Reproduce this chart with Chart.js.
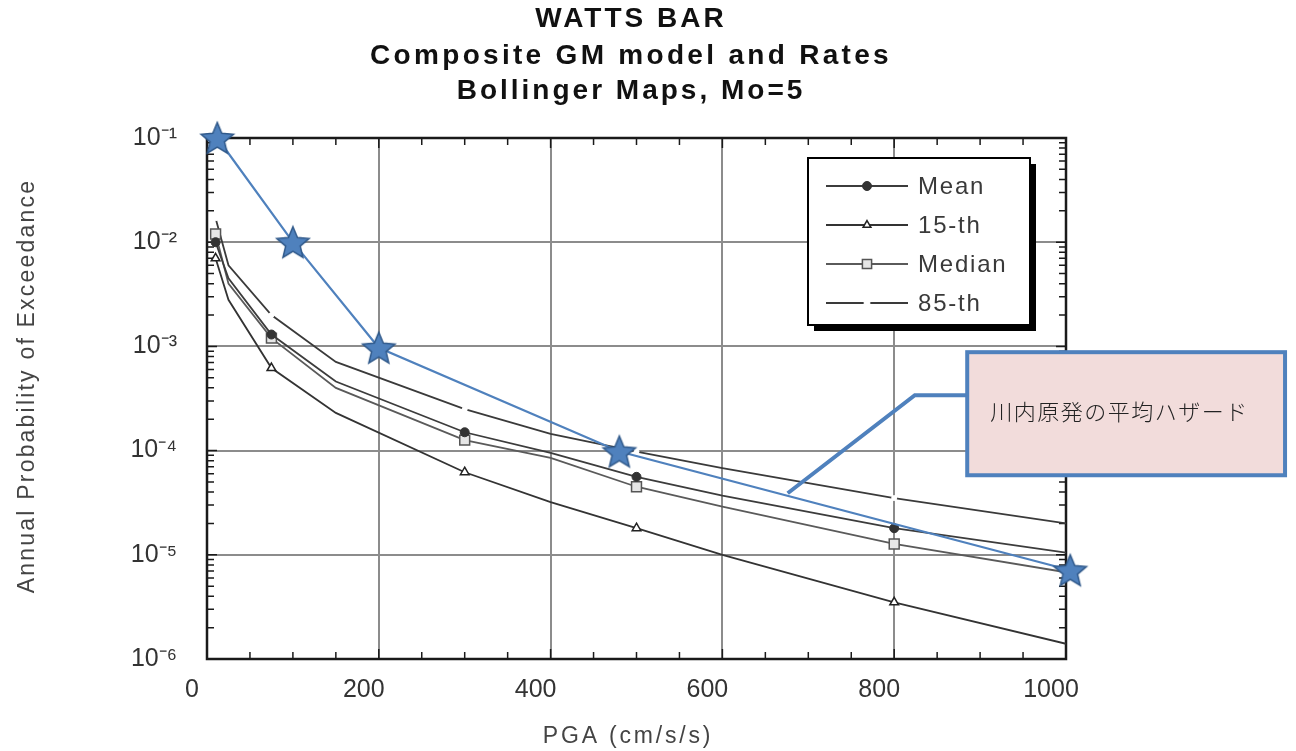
<!DOCTYPE html>
<html lang="en">
<head>
    <meta charset="UTF-8">
    <title>WATTS BAR hazard</title>
    <script src="https://cdn.jsdelivr.net/npm/chart.js"></script>
    <style>
        body {
            margin: 0;
            background: #fff;
        }
        #wrap {
            width: 1296px;
            height: 751px;
        }
    </style>
</head>
<body>

<div id="wrap">
    <canvas id="hazard" width="1296" height="751"></canvas>
</div>

<script>
    // values
    const pga = [10, 25, 75, 150, 300, 400, 500, 600, 800, 1000];
    const meanP = [1.0e-2, 4.5e-3, 1.3e-3, 4.6e-4, 1.5e-4, 9.5e-5, 5.6e-5, 3.7e-5, 1.8e-5, 1.05e-5];
    const p15 = [7.0e-3, 2.8e-3, 6.2e-4, 2.3e-4, 6.2e-5, 3.2e-5, 1.8e-5, 1.0e-5, 3.5e-6, 1.4e-6];
    const medianP = [1.2e-2, 4.0e-3, 1.2e-3, 4.0e-4, 1.26e-4, 8.5e-5, 4.5e-5, 2.9e-5, 1.27e-5, 6.8e-6];
    const p85 = [1.7e-2, 6.0e-3, 2.0e-3, 7.1e-4, 2.5e-4, 1.45e-4, 9.8e-5, 6.8e-5, 3.5e-5, 2.0e-5];
    const markerPGA = [10, 75, 300, 500, 800];

    // Sendai mean hazard (stars)
    const sendaiPGA = [12, 100, 200, 480, 1005];
    const sendaiP = [1e-1, 1e-2, 9.7e-4, 9.8e-5, 7.1e-6];

    const xTicks = [0, 200, 400, 600, 800, 1000];
    const yTicks = [1e-6, 1e-5, 1e-4, 1e-3, 1e-2, 1e-1];

    const titleLines = ['WATTS BAR', 'Composite GM model and Rates', 'Bollinger Maps, Mo=5'];
    const xTitle = 'PGA (cm/s/s)';
    const yTitle = 'Annual Probability of Exceedance';
    const calloutText = '川内原発の平均ハザード';

    // callout anchor points, in data units
    const calloutTip = {x: 676, y: 3.9e-5};
    const calloutElbow = {x: 824, y: 3.4e-4};
    const calloutBox = {x0: 885, x1: 1255, yTop: 8.8e-4, yBottom: 5.8e-5};

    const sup = {'-': '\u207B', '0': '\u2070', '1': '\u00B9', '2': '\u00B2', '3': '\u00B3',
        '4': '\u2074', '5': '\u2075', '6': '\u2076', '7': '\u2077', '8': '\u2078', '9': '\u2079'};

    function pts(xs, ys) {
        return xs.map((x, i) => ({x: x, y: ys[i]}));
    }

    function makeStar(r) {
        const c = document.createElement('canvas');
        const s = Math.ceil(r * 2 + 4);
        c.width = s;
        c.height = s;
        const g = c.getContext('2d');
        g.beginPath();
        for (let i = 0; i < 10; i++) {
            const rad = i % 2 ? r * 0.45 : r;
            const a = -Math.PI / 2 + i * Math.PI / 5;
            g.lineTo(s / 2 + rad * Math.cos(a), s / 2 + 1.5 + rad * Math.sin(a));
        }
        g.closePath();
        g.fillStyle = '#4f81bd';
        g.fill();
        g.strokeStyle = '#30598a';
        g.lineWidth = 1.5;
        g.stroke();
        return c;
    }

    function markerRadius(r) {
        return c => markerPGA.includes(pga[c.dataIndex]) ? r : 0;
    }

    // draws text with letter spacing
    function spacedText(ctx, text, x, y, font, spacing, color, align) {
        ctx.save();
        ctx.font = font;
        ctx.fillStyle = color;
        ctx.textAlign = align || 'center';
        ctx.textBaseline = 'middle';
        ctx.letterSpacing = spacing + 'px';
        ctx.fillText(text, x, y);
        ctx.restore();
    }

    // box, inside ticks, titles
    const decorations = {
        id: 'decorations',
        beforeDatasetsDraw(chart) {
            const {ctx, chartArea: a, scales: {x, y}} = chart;
            ctx.save();
            ctx.strokeStyle = '#1a1a1a';
            ctx.lineWidth = 1.5;
            ctx.beginPath();
            for (let v = 0; v <= 1000; v += 50) {
                const px = x.getPixelForValue(v);
                const len = v % 200 ? 7 : 10;
                ctx.moveTo(px, a.bottom);
                ctx.lineTo(px, a.bottom - len);
                ctx.moveTo(px, a.top);
                ctx.lineTo(px, a.top + len);
            }
            for (let e = -6; e < -1; e++) {
                for (let k = 1; k < 10; k++) {
                    const py = y.getPixelForValue(k * Math.pow(10, e));
                    const len = k === 1 ? 10 : 7;
                    ctx.moveTo(a.left, py);
                    ctx.lineTo(a.left + len, py);
                    ctx.moveTo(a.right, py);
                    ctx.lineTo(a.right - len, py);
                }
            }
            ctx.stroke();
            ctx.lineWidth = 2.5;
            ctx.strokeRect(a.left, a.top, a.width, a.height);
            ctx.restore();

            spacedText(ctx, titleLines[0], 631, 19, 'bold 28px Arial', 3, '#111');
            spacedText(ctx, titleLines[1], 631, 56, 'bold 28px Arial', 3.3, '#111');
            spacedText(ctx, titleLines[2], 631, 91, 'bold 28px Arial', 3, '#111');
            spacedText(ctx, xTitle, 628, 737, '23px Arial', 2.8, '#444');

            ctx.save();
            ctx.translate(28, 386);
            ctx.rotate(-Math.PI / 2);
            spacedText(ctx, yTitle, 0, 0, '23px Arial', 2.2, '#444');
            ctx.restore();
        },
        afterDatasetsDraw(chart) {
            // legend box
            const ctx = chart.ctx;
            const x0 = 808, y0 = 158, w = 222, h = 167;
            ctx.save();
            ctx.fillStyle = '#000';
            ctx.fillRect(x0 + 6, y0 + 6, w, h);
            ctx.fillStyle = '#fff';
            ctx.fillRect(x0, y0, w, h);
            ctx.strokeStyle = '#000';
            ctx.lineWidth = 2;
            ctx.strokeRect(x0, y0, w, h);
            chart.data.datasets.slice(1).forEach((ds, k) => {
                const yy = y0 + 28 + k * 39;
                ctx.strokeStyle = ds.borderColor;
                ctx.lineWidth = ds.borderWidth;
                ctx.beginPath();
                ctx.moveTo(x0 + 18, yy);
                ctx.lineTo(x0 + 100, yy);
                ctx.stroke();
                ctx.fillStyle = ds.pointBackgroundColor;
                ctx.strokeStyle = ds.pointBorderColor;
                ctx.lineWidth = ds.pointBorderWidth;
                Chart.helpers.drawPoint(ctx, {
                    pointStyle: ds.pointStyle, rotation: 0,
                    radius: ds.legendRadius, borderWidth: ds.pointBorderWidth
                }, x0 + 59, yy);
                spacedText(ctx, ds.label, x0 + 110, yy + 1, '24px Arial', 1.8, '#3a3a3a', 'left');
            });
            ctx.restore();
        },
        afterDraw(chart) {
            // callout
            const {ctx, scales: {x, y}} = chart;
            const bx0 = x.getPixelForValue(calloutBox.x0);
            const bx1 = x.getPixelForValue(calloutBox.x1);
            const by0 = y.getPixelForValue(calloutBox.yTop);
            const by1 = y.getPixelForValue(calloutBox.yBottom);
            const ey = y.getPixelForValue(calloutElbow.y);
            ctx.save();
            ctx.strokeStyle = '#4f81bd';
            ctx.lineWidth = 4;
            ctx.beginPath();
            ctx.moveTo(x.getPixelForValue(calloutTip.x), y.getPixelForValue(calloutTip.y));
            ctx.lineTo(x.getPixelForValue(calloutElbow.x), ey);
            ctx.lineTo(bx0, ey);
            ctx.stroke();
            ctx.fillStyle = '#f2dcdb';
            ctx.fillRect(bx0, by0, bx1 - bx0, by1 - by0);
            ctx.strokeRect(bx0, by0, bx1 - bx0, by1 - by0);
            ctx.restore();
            spacedText(ctx, calloutText, bx0 + 23, (by0 + by1) / 2 - 2,
                '300 22px "Noto Sans CJK JP"', 1.5, '#222', 'left');
        }
    };

    const ctx = document.getElementById('hazard').getContext('2d');
    new Chart(ctx, {
        type: 'line',
        data: {
            datasets: [{
                label: 'Sendai',
                data: pts(sendaiPGA, sendaiP),
                borderColor: '#4f81bd',
                borderWidth: 2.2,
                pointStyle: makeStar(17),
                pointRadius: 17,
                clip: false
            }, {
                label: 'Mean',
                data: pts(pga, meanP),
                borderColor: '#3c3c3c',
                borderWidth: 1.8,
                pointStyle: 'circle',
                pointRadius: markerRadius(4.5),
                legendRadius: 4.5,
                pointBackgroundColor: '#333',
                pointBorderColor: '#333',
                pointBorderWidth: 1
            }, {
                label: '15-th',
                data: pts(pga, p15),
                borderColor: '#333',
                borderWidth: 1.8,
                pointStyle: 'triangle',
                pointRadius: markerRadius(5),
                legendRadius: 4.5,
                pointBackgroundColor: '#fff',
                pointBorderColor: '#222',
                pointBorderWidth: 1.5
            }, {
                label: 'Median',
                data: pts(pga, medianP),
                borderColor: '#5a5a5a',
                borderWidth: 1.8,
                pointStyle: 'rect',
                pointRadius: markerRadius(7),
                legendRadius: 6.5,
                pointBackgroundColor: '#e6e6e6',
                pointBorderColor: '#555',
                pointBorderWidth: 1.5
            }, {
                label: '85-th',
                data: pts(pga, p85),
                borderColor: '#3a3a3a',
                borderWidth: 1.8,
                pointStyle: 'circle',
                pointRadius: markerRadius(2.5),
                legendRadius: 3,
                pointBackgroundColor: '#fff',
                pointBorderColor: '#fff',
                pointBorderWidth: 1
            }]
        },
        options: {
            responsive: false,
            animation: false,
            events: [],
            layout: {
                padding: {top: 138, left: 0, right: 230, bottom: 0}
            },
            plugins: {
                legend: {display: false},
                title: {display: false},
                tooltip: {enabled: false}
            },
            scales: {
                x: {
                    type: 'linear',
                    min: 0,
                    max: 1000,
                    afterBuildTicks: s => { s.ticks = xTicks.map(v => ({value: v})); },
                    afterFit: s => { s.height = 92; },
                    grid: {color: '#8c8c8c', lineWidth: 2, drawTicks: false},
                    border: {display: false},
                    ticks: {
                        font: {family: 'Arial', size: 25},
                        color: '#333',
                        padding: 16,
                        labelOffset: -15,
                        maxRotation: 0,
                        callback: v => String(v)
                    }
                },
                y: {
                    type: 'logarithmic',
                    min: 1e-6,
                    max: 1e-1,
                    afterBuildTicks: s => { s.ticks = yTicks.map(v => ({value: v})); },
                    afterFit: s => { s.width = 207; },
                    grid: {color: '#8c8c8c', lineWidth: 2, drawTicks: false},
                    border: {display: false},
                    ticks: {
                        font: {family: 'Arial', size: 25},
                        color: '#333',
                        padding: 30,
                        callback: v => '10' + String(Math.round(Math.log10(v))).split('').map(c => sup[c]).join('')
                    }
                }
            }
        },
        plugins: [decorations]
    });
</script>

</body>
</html>
